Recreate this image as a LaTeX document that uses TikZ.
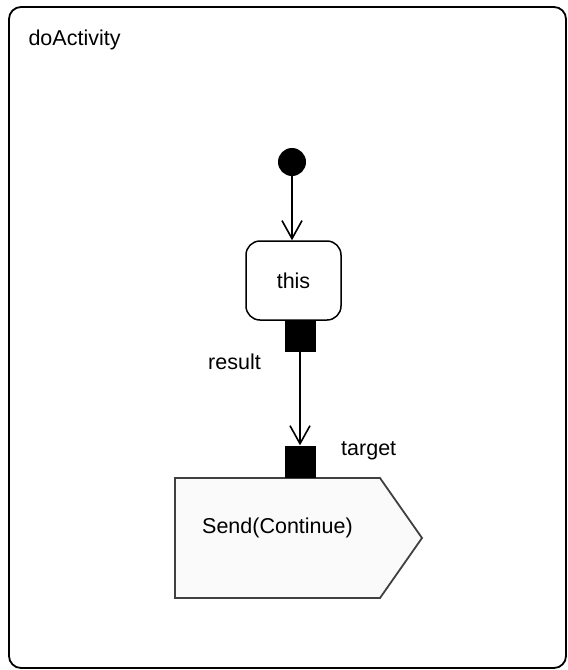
\documentclass[tikz,border=0pt]{standalone}
\usepackage{fontspec}
\setmainfont{Liberation Sans}
\usepackage{tikz}
\usetikzlibrary{arrows.meta,positioning,shapes.symbols}

\begin{document}
\begin{tikzpicture}[
  x=1pt, y=-1pt,
  font=\fontsize{21.5}{26}\selectfont,
  frame/.style={draw, line width=1.8pt, rounded corners=12pt,
                minimum width=557pt, minimum height=661pt},
  init/.style={circle, fill=black, minimum size=28pt, inner sep=0pt},
  action/.style={draw, line width=1.5pt, rounded corners=14pt,
                 minimum width=95pt, minimum height=79pt},
  pinbox/.style={fill=black, minimum width=31pt, minimum height=32pt, inner sep=0pt},
  sendbox/.style={signal, signal to=east, signal pointer angle=110,
                  draw=black!75, line width=1.8pt, fill=black!2,
                  minimum width=247pt, minimum height=120pt, inner sep=0pt,
                  text depth=24pt},
  arr/.style={line width=1.8pt, -{Straight Barb[length=18pt, width=20pt, line width=1.6pt]}}]
\useasboundingbox (0,0) rectangle (568,670);
\node[frame] (activity) at (287.5,337.5) {};
\node[anchor=west] (title) at (25,40) {doActivity};
\node[init] (start) at (292,162) {};
\node[action] (this) at (293.5,280.5) {this};
\node[pinbox] (result) at (300,336) {};
\node[left=20pt of result, yshift=-26pt] (resultlbl) {result};
\node[sendbox] (send) at (277.5,538) {Send(Continue)};
\node[pinbox] (target) at (300,461.5) {};
\node[right=22pt of target, yshift=11pt] (targetlbl) {target};
\draw[arr] (start.south) -- (start.south |- this.north);
\draw[arr] (result.south) -- (target.north);
\end{tikzpicture}
\end{document}
